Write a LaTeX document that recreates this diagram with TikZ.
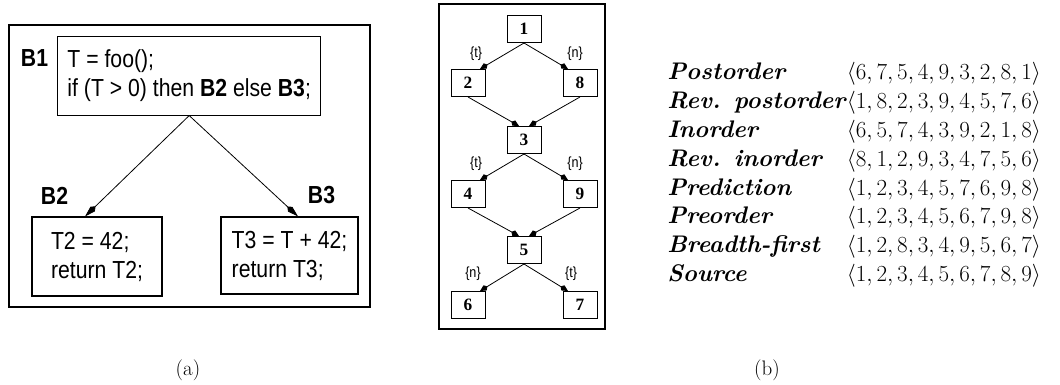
\documentclass[tikz,border=0pt]{standalone}
\usepackage{fontspec}
\usetikzlibrary{arrows.meta,calc}
\newfontfamily\helv[FakeStretch=0.86]{Liberation Sans}
\newfontfamily\tms{Liberation Serif}
\begin{document}
\begin{tikzpicture}[x=0.75pt,y=-0.75pt,
  frameA/.style={draw, line width=1.5pt},
  frameB/.style={draw, line width=2.2pt},
  blk/.style={draw, line width=0.8pt, align=left, inner sep=0pt,
    font=\helv\fontsize{18.5}{21.75}\selectfont},
  blabel/.style={inner sep=0pt, font=\helv\bfseries\fontsize{18.5}{20}\selectfont},
  arrA/.style={-{Kite[length=11pt,width=4.8pt,inset=3pt]}, line width=0.6pt},
  nd/.style={draw, line width=0.75pt, minimum width=25.5pt, minimum height=20.25pt,
    inner sep=0pt, font=\tms\bfseries\fontsize{13}{13}\selectfont},
  elab/.style={inner sep=0pt, font=\helv\fontsize{11}{12}\selectfont},
  arrB/.style={-{Kite[length=6.5pt,width=4.5pt,inset=2pt]}, line width=0.6pt},
  captxt/.style={inner sep=0pt, font=\fontsize{15.75}{18}\selectfont}]
\useasboundingbox (0,0) rectangle (1060,385);

% ---------- panel (a)
\draw[frameA] (9,25) rectangle (370,307);
\node[blk, minimum width=197.25pt, minimum height=58.7pt] (b1) at (189.2,75.9)
  {T = foo();\\if (T > 0) then \textbf{B2} else \textbf{B3};};
\node[blk, minimum width=97.5pt, minimum height=59.25pt] (b2) at (97,256.5)
  {T2 = 42;\\return T2;};
\node[blk, minimum width=102.75pt, minimum height=57.75pt] (b3) at (289.5,255.5)
  {T3 = T + 42;\\return T3;};
\node[blabel] (lb1) at (34.5,58) {B1};
\node[blabel] (lb2) at (54.5,196) {B2};
\node[blabel] (lb3) at (321.5,195) {B3};
\draw[arrA] (b1.south) -- ([xshift=-9pt]b2.north);
\draw[arrA] (b1.south) -- ([xshift=6.4pt]b3.north);

% ---------- panel (b)
\draw[frameB] (439,4) rectangle (605,329);
\node[nd] (n1) at (524,29) {1};
\node[nd] (n2) at (468,83) {2};
\node[nd] (n8) at (580,83) {8};
\node[nd] (n3) at (524,140) {3};
\node[nd] (n4) at (468,194) {4};
\node[nd] (n9) at (580,194) {9};
\node[nd] (n5) at (524,250) {5};
\node[nd] (n6) at (468,305) {6};
\node[nd] (n7) at (580,305) {7};

\draw[arrB] (n1.south) -- ([xshift=9pt]n2.north);
\draw[arrB] (n1.south) -- ([xshift=-9pt]n8.north);
\draw[arrB] (n2.south) -- ([xshift=-3.75pt]n3.north);
\draw[arrB] (n8.south) -- ([xshift=3.75pt]n3.north);
\draw[arrB] (n3.south) -- ([xshift=9pt]n4.north);
\draw[arrB] (n3.south) -- ([xshift=-9pt]n9.north);
\draw[arrB] (n4.south) -- ([xshift=-3.75pt]n5.north);
\draw[arrB] (n9.south) -- ([xshift=3.75pt]n5.north);
\draw[arrB] (n5.south) -- ([xshift=9pt]n6.north);
\draw[arrB] (n5.south) -- ([xshift=-9pt]n7.north);

\node[elab] (t1) at (476,54) {\{t\}};
\node[elab] (t2) at (575,54) {\{n\}};
\node[elab] (t3) at (476,164) {\{t\}};
\node[elab] (t4) at (575,164) {\{n\}};
\node[elab] (t5) at (473,274) {\{n\}};
\node[elab] (t6) at (571,274) {\{t\}};

% ---------- table
\node[anchor=west, inner sep=0pt] (tbl) at (667,175) {\fontsize{18}{21.6}\selectfont
\begin{tabular}{@{}l@{}l@{}}
\textbf{\textit{Postorder}} & $\langle 6,7,5,4,9,3,2,8,1\rangle$\\
\textbf{\textit{Rev. postorder}} & $\langle 1,8,2,3,9,4,5,7,6\rangle$\\
\textbf{\textit{Inorder}} & $\langle 6,5,7,4,3,9,2,1,8\rangle$\\
\textbf{\textit{Rev. inorder}} & $\langle 8,1,2,9,3,4,7,5,6\rangle$\\
\textbf{\textit{Prediction}} & $\langle 1,2,3,4,5,7,6,9,8\rangle$\\
\textbf{\textit{Preorder}} & $\langle 1,2,3,4,5,6,7,9,8\rangle$\\
\textbf{\textit{Breadth-first}} & $\langle 1,2,8,3,4,9,5,6,7\rangle$\\
\textbf{\textit{Source}} & $\langle 1,2,3,4,5,6,7,8,9\rangle$
\end{tabular}};

% ---------- captions
\node[captxt] (capa) at (188,370) {(a)};
\node[captxt] (capb) at (767,370) {(b)};
\end{tikzpicture}
\end{document}
